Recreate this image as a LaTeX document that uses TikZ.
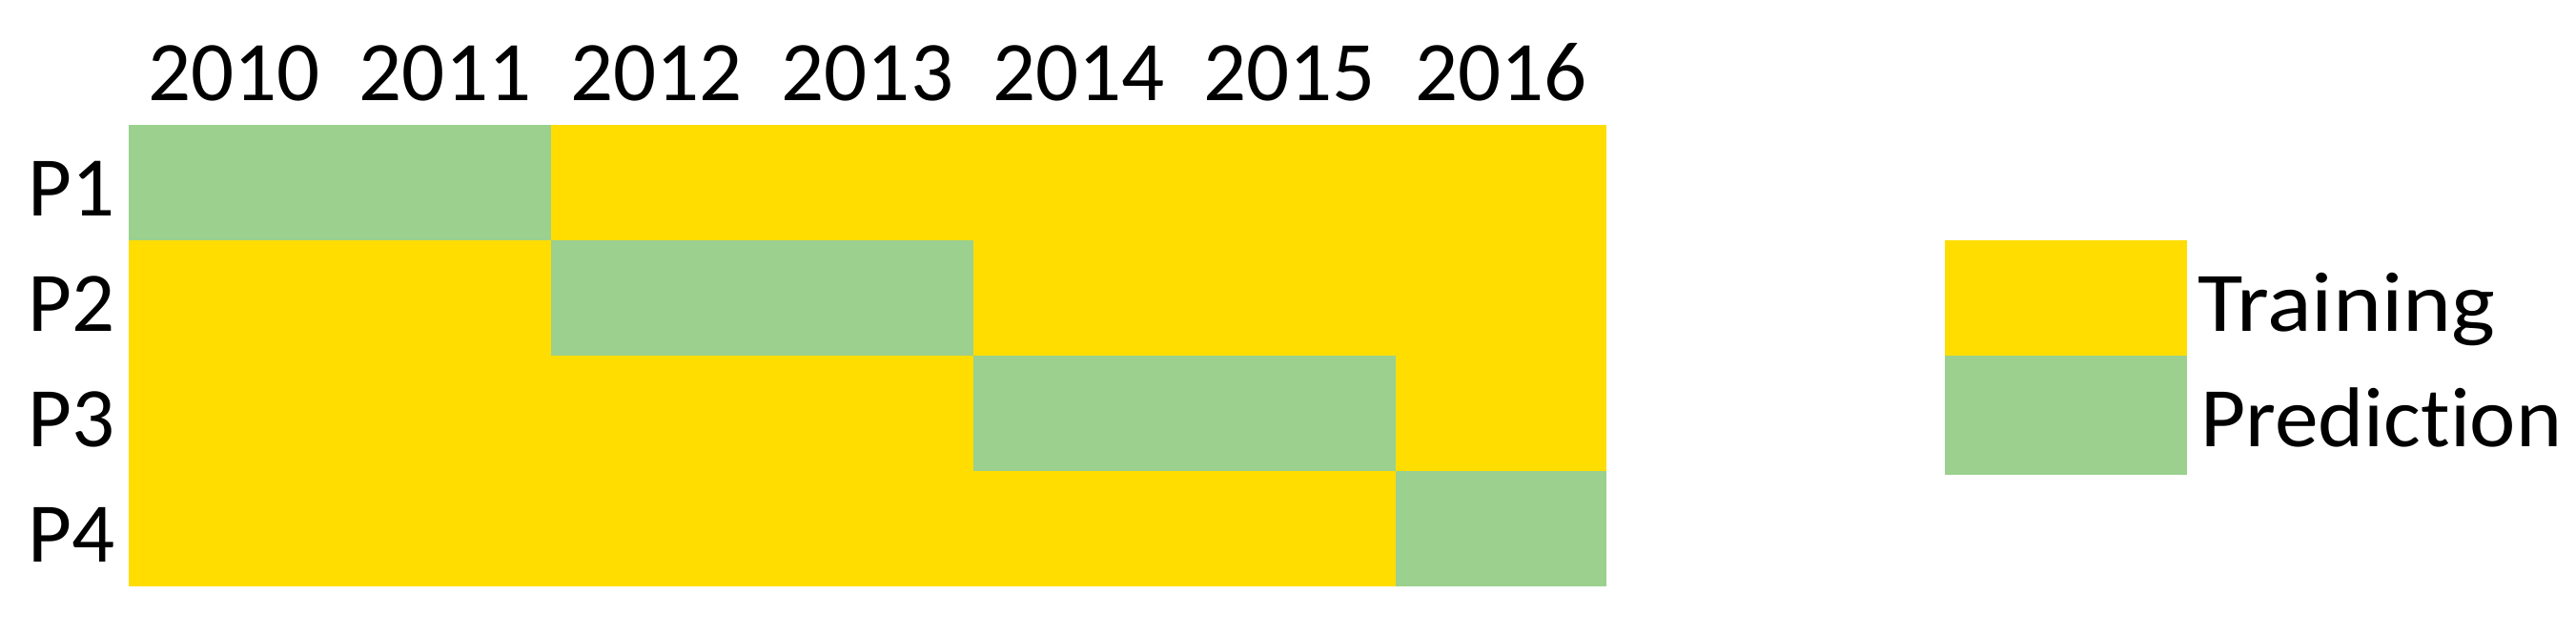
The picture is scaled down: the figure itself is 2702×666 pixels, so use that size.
\documentclass[tikz,border=0pt]{standalone}
\usepackage{fontspec}
\usepackage{graphicx}
\setmainfont[Ligatures={NoCommon}]{Carlito}
\definecolor{trainc}{RGB}{255,221,0}
\definecolor{predc}{RGB}{155,208,142}
\begin{document}
\begin{tikzpicture}[x=1pt,y=-1pt,
  train/.style={fill=trainc},
  pred/.style={fill=predc},
  lbl/.style={inner sep=0pt,font=\fontsize{89}{100}\selectfont}]
\useasboundingbox[fill=white] (0,0) rectangle (2702,666);
% column width 221.46, rows 121
\def\cw{221.46}
% P1
\fill[pred]  (134.8,131) rectangle ({134.8+2*\cw},252);
\fill[train] ({134.8+2*\cw},131) rectangle ({134.8+7*\cw},252);
% P2
\fill[train] (134.8,252) rectangle ({134.8+2*\cw},373);
\fill[pred]  ({134.8+2*\cw},252) rectangle ({134.8+4*\cw},373);
\fill[train] ({134.8+4*\cw},252) rectangle ({134.8+7*\cw},373);
% P3
\fill[train] (134.8,373) rectangle ({134.8+4*\cw},494);
\fill[pred]  ({134.8+4*\cw},373) rectangle ({134.8+6*\cw},494);
\fill[train] ({134.8+6*\cw},373) rectangle ({134.8+7*\cw},494);
% P4
\fill[train] (134.8,494) rectangle ({134.8+6*\cw},615);
\fill[pred]  ({134.8+6*\cw},494) rectangle ({134.8+7*\cw},615);
% years
\foreach \yr [count=\i from 0] in {2010,2011,2012,2013,2014,2015,2016}
  \node[lbl,anchor=base] (y\yr) at ({134.8+(\i+0.5)*\cw},106) {\yr};
% rows
\foreach \p [count=\i from 0] in {P1,P2,P3,P4}
  \node[lbl,anchor=base east] (r\p) at (121,{226.7+121*\i}) {\p};
% legend
\fill[train] (2040,252) rectangle (2294,373);
\fill[pred]  (2040,373) rectangle (2294,498);
\node[lbl,anchor=base west] (ltrain) at (2305,347) {\resizebox{312pt}{\height}{Training}};
\node[lbl,anchor=base west] (lpred) at (2308,468) {\resizebox{379pt}{\height}{Prediction}};
\end{tikzpicture}
\end{document}
